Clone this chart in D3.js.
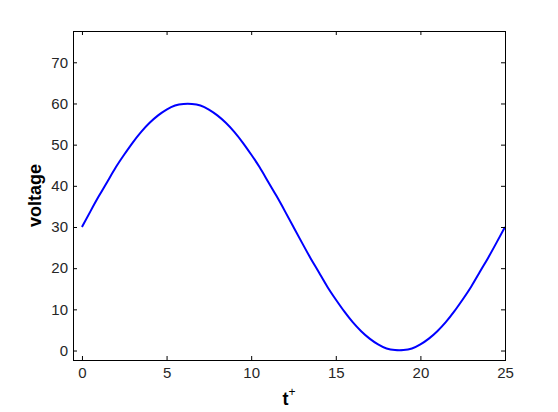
<!DOCTYPE html>
<html>
<head>
<meta charset="utf-8">
<script src="https://cdn.jsdelivr.net/npm/d3@7"></script>
<style>
  body { margin: 0; background: #fff; }
  svg { display: block; }
  .tick text { font-family: "Liberation Sans", Arial, sans-serif; font-size: 15px; fill: #262626; }
</style>
</head>
<body>
<div id="chart"></div>
<script>
// values
var tValues = [0, 0.5, 1, 1.5, 2, 2.5, 3, 3.5, 4, 4.5, 5, 5.5, 6, 6.5, 7, 7.5, 8, 8.5, 9, 9.5,
  10, 10.5, 11, 11.5, 12, 12.5, 13, 13.5, 14, 14.5, 15, 15.5, 16, 16.5, 17, 17.5, 18, 18.5, 19, 19.5,
  20, 20.5, 21, 21.5, 22, 22.5, 23, 23.5, 24, 24.5, 25];
var voltage = [30.0, 33.8, 37.5, 41.0, 44.5, 47.6, 50.5, 53.1, 55.3, 57.1, 58.5, 59.5, 59.9, 59.9, 59.5, 58.5,
  57.1, 55.3, 53.1, 50.5, 47.6, 44.5, 41.0, 37.5, 33.8, 30.0, 26.2, 22.5, 19.0, 15.5, 12.4, 9.5, 6.9, 4.7,
  2.9, 1.5, 0.5, 0.1, 0.1, 0.5, 1.5, 2.9, 4.7, 6.9, 9.5, 12.4, 15.5, 19.0, 22.5, 26.2, 30.0];
var xTicks = [0, 5, 10, 15, 20, 25];
var yTicks = [0, 10, 20, 30, 40, 50, 60, 70];

var width = 558, height = 412;
var plotL = 73, plotR = 505, plotT = 31, plotB = 360;

var svg = d3.select("#chart").append("svg")
  .attr("width", width)
  .attr("height", height);

var x = d3.scaleLinear().domain([-0.53, 25]).range([plotL, plotR]);
var y = d3.scaleLinear().domain([-2.3, 77.6]).range([plotB, plotT]);

var points = tValues.map(function(t, i) { return [t, voltage[i]]; });

// curve
svg.append("path")
  .datum(points)
  .attr("fill", "none")
  .attr("stroke", "#0000ff")
  .attr("stroke-width", 2)
  .attr("d", d3.line()
    .x(function(d) { return x(d[0]); })
    .y(function(d) { return y(d[1]); })
    .curve(d3.curveNatural));

// axes, ticks pointing in
svg.append("g")
  .attr("transform", "translate(0," + plotB + ")")
  .call(d3.axisBottom(x).tickValues(xTicks).tickSizeInner(-4).tickSizeOuter(0).tickPadding(7));
svg.append("g")
  .attr("transform", "translate(" + plotL + ",0)")
  .call(d3.axisLeft(y).tickValues(yTicks).tickSizeInner(-4).tickSizeOuter(0).tickPadding(5));
svg.append("g")
  .attr("transform", "translate(0," + plotT + ")")
  .call(d3.axisTop(x).tickValues(xTicks).tickSizeInner(-4).tickSizeOuter(0).tickFormat(""));
svg.append("g")
  .attr("transform", "translate(" + plotR + ",0)")
  .call(d3.axisRight(y).tickValues(yTicks).tickSizeInner(-4).tickSizeOuter(0).tickFormat(""));

svg.selectAll(".domain").remove();
svg.selectAll(".tick line").attr("stroke", "#000");

// box
svg.append("rect")
  .attr("x", plotL + 0.5).attr("y", plotT + 0.5)
  .attr("width", plotR - plotL).attr("height", plotB - plotT)
  .attr("fill", "none").attr("stroke", "#000");

// labels
svg.append("text")
  .attr("transform", "translate(41," + (plotT + plotB) / 2 + ") rotate(-90)")
  .attr("text-anchor", "middle")
  .style("font-family", "Liberation Sans, Arial, sans-serif")
  .style("font-weight", "bold")
  .style("font-size", "18px")
  .text("voltage");

var xl = svg.append("text")
  .attr("x", (plotL + plotR) / 2)
  .attr("y", 405)
  .attr("text-anchor", "middle")
  .style("font-family", "Liberation Sans, Arial, sans-serif")
  .style("font-weight", "bold")
  .style("font-size", "18px");
xl.append("tspan").text("t");
xl.append("tspan")
  .attr("dy", -9)
  .style("font-size", "12px")
  .style("font-weight", "normal")
  .text("+");
</script>
</body>
</html>
